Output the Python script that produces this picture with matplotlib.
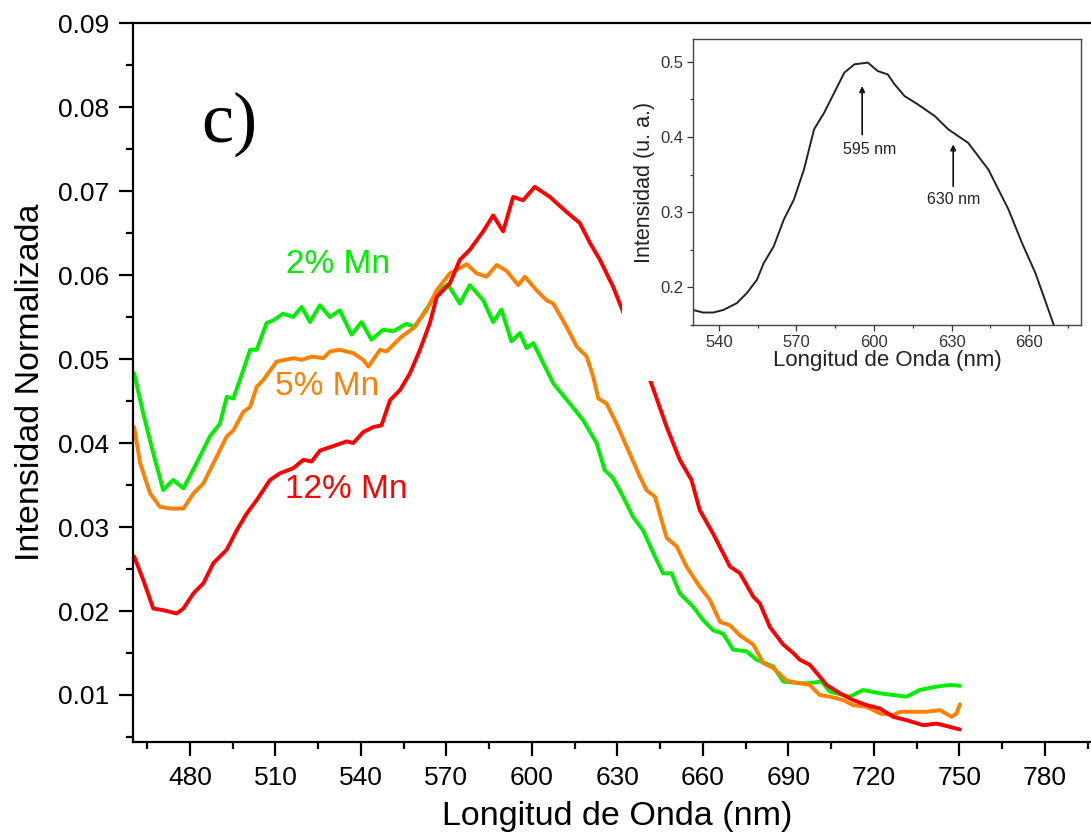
import matplotlib
matplotlib.use('Agg')
import matplotlib.pyplot as plt
from matplotlib.patches import Rectangle
from matplotlib.ticker import MultipleLocator

plt.rcParams['font.family'] = ['Liberation Sans', 'DejaVu Sans']

# 2% Mn (green)
wl_2 = [460.4, 463.6, 467.1, 470.6, 474.1, 477.7, 482.3, 487.0, 490.5, 492.9,
        495.2, 497.5, 501.1, 503.4, 506.9, 509.2, 512.7, 516.2, 519.2, 522.1,
        525.6, 529.1, 532.6, 536.7, 540.2, 543.7, 547.8, 551.3, 556.0, 558.9,
        564.2, 568.9, 570.5, 574.7, 578.2, 582.9, 586.4, 589.3, 592.8, 595.8,
        598.1, 600.5, 604.0, 607.5, 613.3, 618.0, 622.7, 625.5, 628.5, 632.0,
        635.5, 639.0, 642.6, 646.0, 649.0, 651.9, 656.6, 660.1, 663.6, 667.1,
        670.6, 675.3, 678.8, 684.7, 688.2, 694.0, 697.0, 701.6, 704.6, 711.6,
        716.2, 722.1, 726.8, 731.5, 736.1, 742.0, 746.7, 750.2]
int_2 = [0.0483, 0.0435, 0.0388, 0.0344, 0.0356, 0.0346, 0.0376, 0.0408, 0.0423, 0.0455,
         0.0453, 0.0475, 0.0511, 0.0511, 0.0543, 0.0546, 0.0554, 0.0550, 0.0562, 0.0544,
         0.0564, 0.0550, 0.0558, 0.0529, 0.0544, 0.0523, 0.0535, 0.0533, 0.0542, 0.0538,
         0.0566, 0.0585, 0.0589, 0.0566, 0.0588, 0.0570, 0.0544, 0.0559, 0.0521, 0.0531,
         0.0513, 0.0519, 0.0495, 0.0471, 0.0447, 0.0427, 0.0400, 0.0368, 0.0358, 0.0336,
         0.0312, 0.0296, 0.0269, 0.0245, 0.0245, 0.0221, 0.0205, 0.0189, 0.0177, 0.0173,
         0.0154, 0.0152, 0.0142, 0.0134, 0.0116, 0.0114, 0.0114, 0.0116, 0.0104, 0.0098,
         0.0106, 0.0102, 0.0100, 0.0098, 0.0106, 0.0110, 0.0112, 0.0111]

# 5% Mn (orange)
wl_5 = [460.4, 462.5, 466.0, 469.5, 473.0, 477.7, 481.2, 484.7, 489.4, 492.9,
        495.2, 498.7, 501.1, 503.4, 505.7, 510.4, 516.2, 519.2, 522.7, 526.8,
        529.1, 532.6, 537.3, 540.8, 542.6, 546.7, 549.0, 553.7, 558.4, 563.0,
        566.6, 571.2, 573.6, 577.1, 580.6, 584.1, 587.6, 591.1, 595.2, 597.5,
        601.6, 605.1, 607.5, 612.2, 615.7, 619.2, 621.5, 623.3, 626.2, 629.7,
        633.2, 637.9, 640.2, 643.2, 645.5, 647.3, 650.8, 654.2, 658.9, 662.5,
        666.0, 669.5, 673.0, 677.7, 681.2, 684.7, 689.4, 694.0, 697.5, 701.0,
        704.6, 709.2, 712.7, 717.4, 722.1, 726.8, 729.1, 733.8, 738.5, 743.2,
        747.3, 749.0, 750.2]
int_5 = [0.0419, 0.0376, 0.0340, 0.0324, 0.0322, 0.0322, 0.0340, 0.0352, 0.0384, 0.0408,
         0.0415, 0.0437, 0.0443, 0.0467, 0.0475, 0.0497, 0.0501, 0.0499, 0.0503, 0.0501,
         0.0509, 0.0511, 0.0507, 0.0499, 0.0491, 0.0511, 0.0509, 0.0525, 0.0537, 0.0558,
         0.0582, 0.0602, 0.0606, 0.0613, 0.0602, 0.0598, 0.0612, 0.0605, 0.0588, 0.0598,
         0.0582, 0.0570, 0.0566, 0.0538, 0.0515, 0.0503, 0.0479, 0.0453, 0.0447, 0.0423,
         0.0396, 0.0360, 0.0344, 0.0336, 0.0308, 0.0287, 0.0277, 0.0253, 0.0229, 0.0213,
         0.0187, 0.0183, 0.0171, 0.0160, 0.0138, 0.0132, 0.0117, 0.0114, 0.0112, 0.0100,
         0.0098, 0.0094, 0.0088, 0.0086, 0.0078, 0.0076, 0.0080, 0.0080, 0.0080, 0.0082,
         0.0074, 0.0078, 0.0089]

# 12% Mn (red)
wl_12 = [460.4, 463.6, 467.1, 470.6, 475.3, 477.7, 481.2, 484.7, 488.2, 492.9,
         496.4, 499.9, 503.4, 508.1, 511.6, 516.2, 519.8, 522.7, 525.6, 530.0,
         535.0, 537.3, 540.8, 544.3, 547.2, 550.2, 553.7, 557.2, 560.7, 564.2,
         566.6, 568.9, 571.2, 574.7, 578.2, 582.9, 586.4, 589.9, 593.4, 596.9,
         601.0, 606.3, 612.2, 616.8, 620.4, 623.9, 628.5, 632.0, 641.9, 647.3,
         651.9, 656.0, 658.9, 663.6, 669.5, 673.0, 677.7, 680.0, 683.5, 688.2,
         691.7, 694.0, 697.5, 701.0, 703.4, 708.1, 712.7, 717.4, 722.1, 726.8,
         731.5, 737.3, 742.0, 746.7, 750.2]
int_12 = [0.0265, 0.0237, 0.0203, 0.0201, 0.0197, 0.0203, 0.0221, 0.0233, 0.0257, 0.0273,
          0.0296, 0.0316, 0.0332, 0.0356, 0.0364, 0.0370, 0.0380, 0.0378, 0.0391, 0.0396,
          0.0402, 0.0400, 0.0413, 0.0419, 0.0421, 0.0451, 0.0463, 0.0483, 0.0511, 0.0543,
          0.0574, 0.0582, 0.0590, 0.0618, 0.0630, 0.0652, 0.0671, 0.0652, 0.0693, 0.0689,
          0.0705, 0.0693, 0.0675, 0.0662, 0.0638, 0.0618, 0.0586, 0.0556, 0.0471, 0.0419,
          0.0380, 0.0356, 0.0320, 0.0292, 0.0253, 0.0245, 0.0217, 0.0209, 0.0181, 0.0160,
          0.0150, 0.0142, 0.0136, 0.0122, 0.0112, 0.0102, 0.0094, 0.0088, 0.0084, 0.0074,
          0.0070, 0.0064, 0.0066, 0.0062, 0.0059]

# inset spectrum
wl_in = [530.0, 533.9, 537.8, 541.7, 546.9, 550.8, 554.7, 557.3, 561.2, 565.1,
         569.0, 572.9, 576.8, 580.7, 584.6, 588.5, 592.4, 597.6, 601.4, 605.3,
         607.9, 611.8, 617.0, 623.5, 628.7, 636.4, 644.2, 652.0, 657.2, 662.4, 669.5]
int_in = [0.170, 0.1666, 0.1666, 0.170, 0.179, 0.1924, 0.210, 0.232, 0.2545, 0.290,
          0.3166, 0.3566, 0.410, 0.432, 0.4587, 0.4853, 0.4964, 0.4987, 0.4875, 0.483,
          0.470, 0.4542, 0.443, 0.4276, 0.410, 0.392, 0.3566, 0.3034, 0.259, 0.219, 0.150]

fig = plt.figure(figsize=(10.91, 8.36), dpi=100)
ax = fig.add_axes([0.1219, 0.1124, 0.888, 0.860])

line_kw = dict(lw=2.8, solid_joinstyle='round', solid_capstyle='round')
ax.plot(wl_2, int_2, color='#00ee00', **line_kw)
ax.plot(wl_5, int_5, color='#ff8000', **line_kw)
ax.plot(wl_12, int_12, color='#ff0000', **line_kw)

ax.set_xlim(460, 800)
ax.set_ylim(0.0044, 0.09)
ax.xaxis.set_minor_locator(MultipleLocator(15))
ax.set_xticks(range(480, 790, 30))
ax.yaxis.set_minor_locator(MultipleLocator(0.005))
ax.set_yticks([0.01, 0.02, 0.03, 0.04, 0.05, 0.06, 0.07, 0.08, 0.09])
ax.set_yticklabels(['0.01', '0.02', '0.03', '0.04', '0.05', '0.06', '0.07', '0.08', '0.09'])
ax.tick_params(which='major', direction='out', length=10, width=1.6, labelsize=19, pad=7)
ax.tick_params(which='minor', direction='out', length=5, width=1.6)
for s in ax.spines.values():
    s.set_linewidth(1.6)
ax.set_xlabel('Longitud de Onda (nm)', fontsize=24.5, labelpad=8)
ax.set_ylabel('Intensidad Normalizada', fontsize=24.5, labelpad=9)

ax.text(531.9, 0.0612, '2% Mn', color='#00ee00', fontsize=24, ha='center', va='center')
ax.text(528.0, 0.0467, '5% Mn', color='#ff8000', fontsize=24, ha='center', va='center')
ax.text(535.0, 0.0345, '12% Mn', color='#ff0000', fontsize=24, ha='center', va='center')
ax.text(493.7, 0.0780, 'c)', fontsize=52, family='Liberation Serif', ha='center', va='center')

# white area behind the inset hides part of the red curve
fig.add_artist(Rectangle((0.570, 0.5443), 0.43, 0.4199, transform=fig.transFigure,
                         facecolor='white', edgecolor='none', zorder=2))

axi = fig.add_axes([0.6352, 0.6112, 0.3556, 0.3421], zorder=3)
axi.plot(wl_in, int_in, color='#222222', lw=1.4, solid_joinstyle='round')
axi.set_xlim(530, 680)
axi.set_ylim(0.15, 0.53)
axi.xaxis.set_minor_locator(MultipleLocator(15))
axi.set_xticks([540, 570, 600, 630, 660])
axi.yaxis.set_minor_locator(MultipleLocator(0.05))
axi.set_yticks([0.2, 0.3, 0.4, 0.5])
axi.tick_params(which='major', direction='out', length=4, width=0.9, labelsize=12,
                colors='#333333', pad=3)
axi.tick_params(which='minor', direction='out', length=2.5, width=0.9, colors='#333333')
for s in axi.spines.values():
    s.set_linewidth(1.0)
    s.set_color('#444444')
axi.set_xlabel('Longitud de Onda (nm)', fontsize=16, color='#222222', labelpad=0)
axi.set_ylabel('Intensidad (u. a.)', fontsize=15.5, color='#222222', labelpad=4)

arrow = dict(arrowstyle='-|>', color='#111111', lw=1.2, mutation_scale=8, shrinkA=0, shrinkB=0)
axi.annotate('', xy=(595.4, 0.4675), xytext=(595.4, 0.403), arrowprops=arrow)
axi.text(598.3, 0.383, '595 nm', fontsize=11.5, color='#222222', ha='center', va='center')
axi.annotate('', xy=(630.6, 0.390), xytext=(630.6, 0.3344), arrowprops=arrow)
axi.text(630.6, 0.3166, '630 nm', fontsize=11.5, color='#222222', ha='center', va='center')

fig.savefig('out.png', dpi=100)
